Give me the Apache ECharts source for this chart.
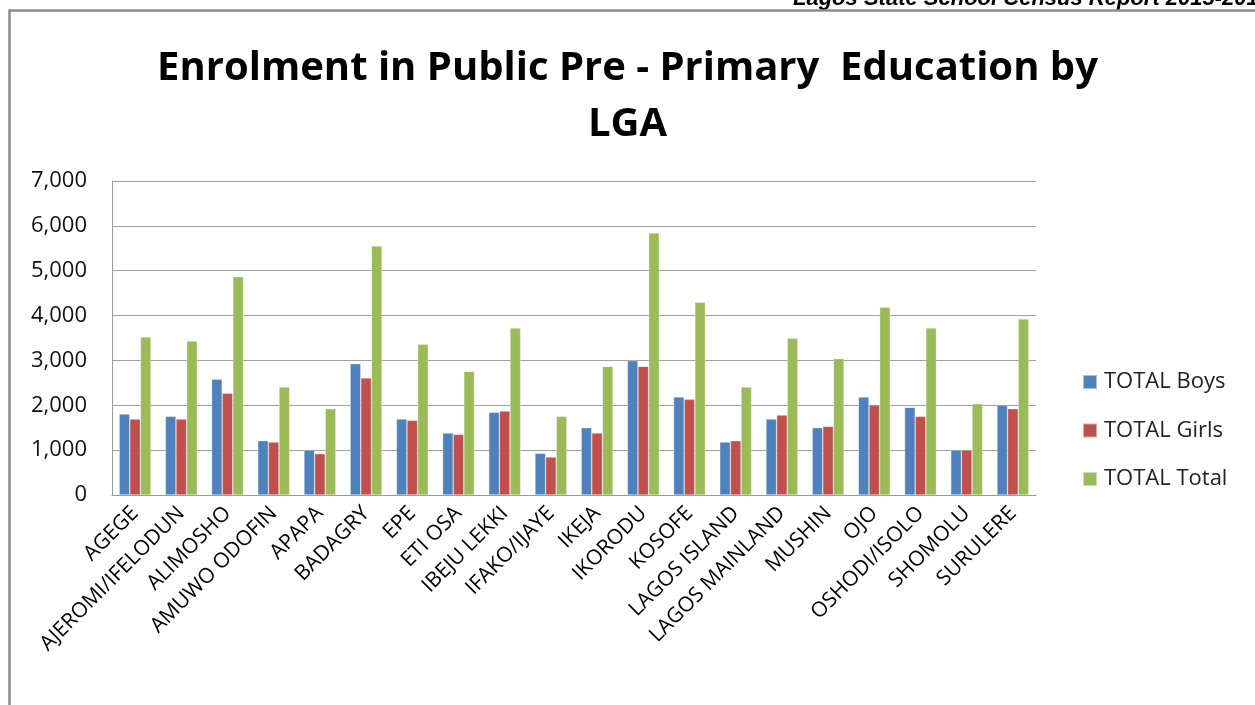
<!DOCTYPE html>
<html>
<head>
<meta charset="utf-8">
<script src="https://cdn.jsdelivr.net/npm/echarts@6/dist/echarts.min.js"></script>
<style>
html,body{margin:0;padding:0;background:#fff;}
#chart{width:1255px;height:705px;}
</style>
</head>
<body>
<div id="chart"></div>
<script>
const categories = ["AGEGE","AJEROMI/IFELODUN","ALIMOSHO","AMUWO ODOFIN","APAPA","BADAGRY","EPE","ETI OSA","IBEJU LEKKI","IFAKO/IJAYE","IKEJA","IKORODU","KOSOFE","LAGOS ISLAND","LAGOS MAINLAND","MUSHIN","OJO","OSHODI/ISOLO","SHOMOLU","SURULERE"];
const boys  = [1806,1754,2579,1211,1003,2927,1694,1382,1843,929,1501,2994,2185,1181,1694,1501,2185,1954,1003,2006];
const girls = [1694,1694,2267,1181,921,2608,1665,1352,1872,847,1382,2868,2133,1211,1783,1531,2006,1754,1003,1924];
const total = [3522,3433,4866,2407,1924,5551,3359,2757,3723,1754,2868,5840,4296,2407,3493,3039,4184,3723,2036,3923];
const seriesNames = ["TOTAL Boys","TOTAL Girls","TOTAL Total"];
const yTicks = [0,1000,2000,3000,4000,5000,6000,7000];
const titleText = "Enrolment in Public Pre - Primary  Education by\nLGA";
const headerText = "Lagos State School Census Report 2015-2016";

const chart = echarts.init(document.getElementById('chart'), null, {renderer:'canvas'});
const colors = ['#4F81BD','#C0504D','#9BBB59'];
const font = '"Open Sans", "Noto Sans", sans-serif';
const mk = (name, data, c) => ({
  name, type:'bar', data, barGap:'0%', barCategoryGap:'31%',
  itemStyle:{color:c, borderColor:'rgba(255,255,255,0.5)', borderWidth:0.6},
  emphasis:{disabled:true}
});
chart.setOption({
  animation:false,
  backgroundColor:'#fff',
  title:{
    text:titleText, left:'center', top:36,
    textStyle:{fontFamily:font, fontWeight:'bold', fontSize:40, lineHeight:56, color:'#000'}
  },
  legend:{
    orient:'vertical', left:1077, top:366, itemWidth:14, itemHeight:14, itemGap:26.5,
    icon:'rect', data:seriesNames,
    textStyle:{fontFamily:font, fontSize:22, color:'#222', lineHeight:22, padding:[0,0,0,2]}
  },
  grid:{left:112, right:219, top:181, bottom:210, containLabel:false},
  xAxis:{
    type:'category', data:categories,
    axisLine:{lineStyle:{color:'#999', width:1}},
    axisTick:{show:false},
    axisLabel:{rotate:45, interval:0, margin:15, fontFamily:font, fontSize:21, color:'#000'}
  },
  yAxis:{
    type:'value', min:yTicks[0], max:yTicks[yTicks.length-1], interval:1000,
    axisLine:{show:true, lineStyle:{color:'#999', width:1}},
    axisTick:{show:false},
    splitLine:{lineStyle:{color:'#A0A0A0', width:1}},
    axisLabel:{margin:25, fontFamily:font, fontSize:22, color:'#111',
      formatter:v=>v.toLocaleString('en-US')}
  },
  series:[mk(seriesNames[0],boys,colors[0]), mk(seriesNames[1],girls,colors[1]), mk(seriesNames[2],total,colors[2])],
  graphic:[
    {type:'text', left:793, top:-12, style:{text:headerText, font:'italic bold 22px "Liberation Sans", Arial, sans-serif', fill:'#000'}},
    {type:'line', shape:{x1:9, y1:10.5, x2:1255, y2:10.5}, style:{stroke:'#8c8c8c', lineWidth:2.5}},
    {type:'line', shape:{x1:9.5, y1:9.5, x2:9.5, y2:705}, style:{stroke:'#8c8c8c', lineWidth:2.5}}
  ]
});
</script>
</body>
</html>
